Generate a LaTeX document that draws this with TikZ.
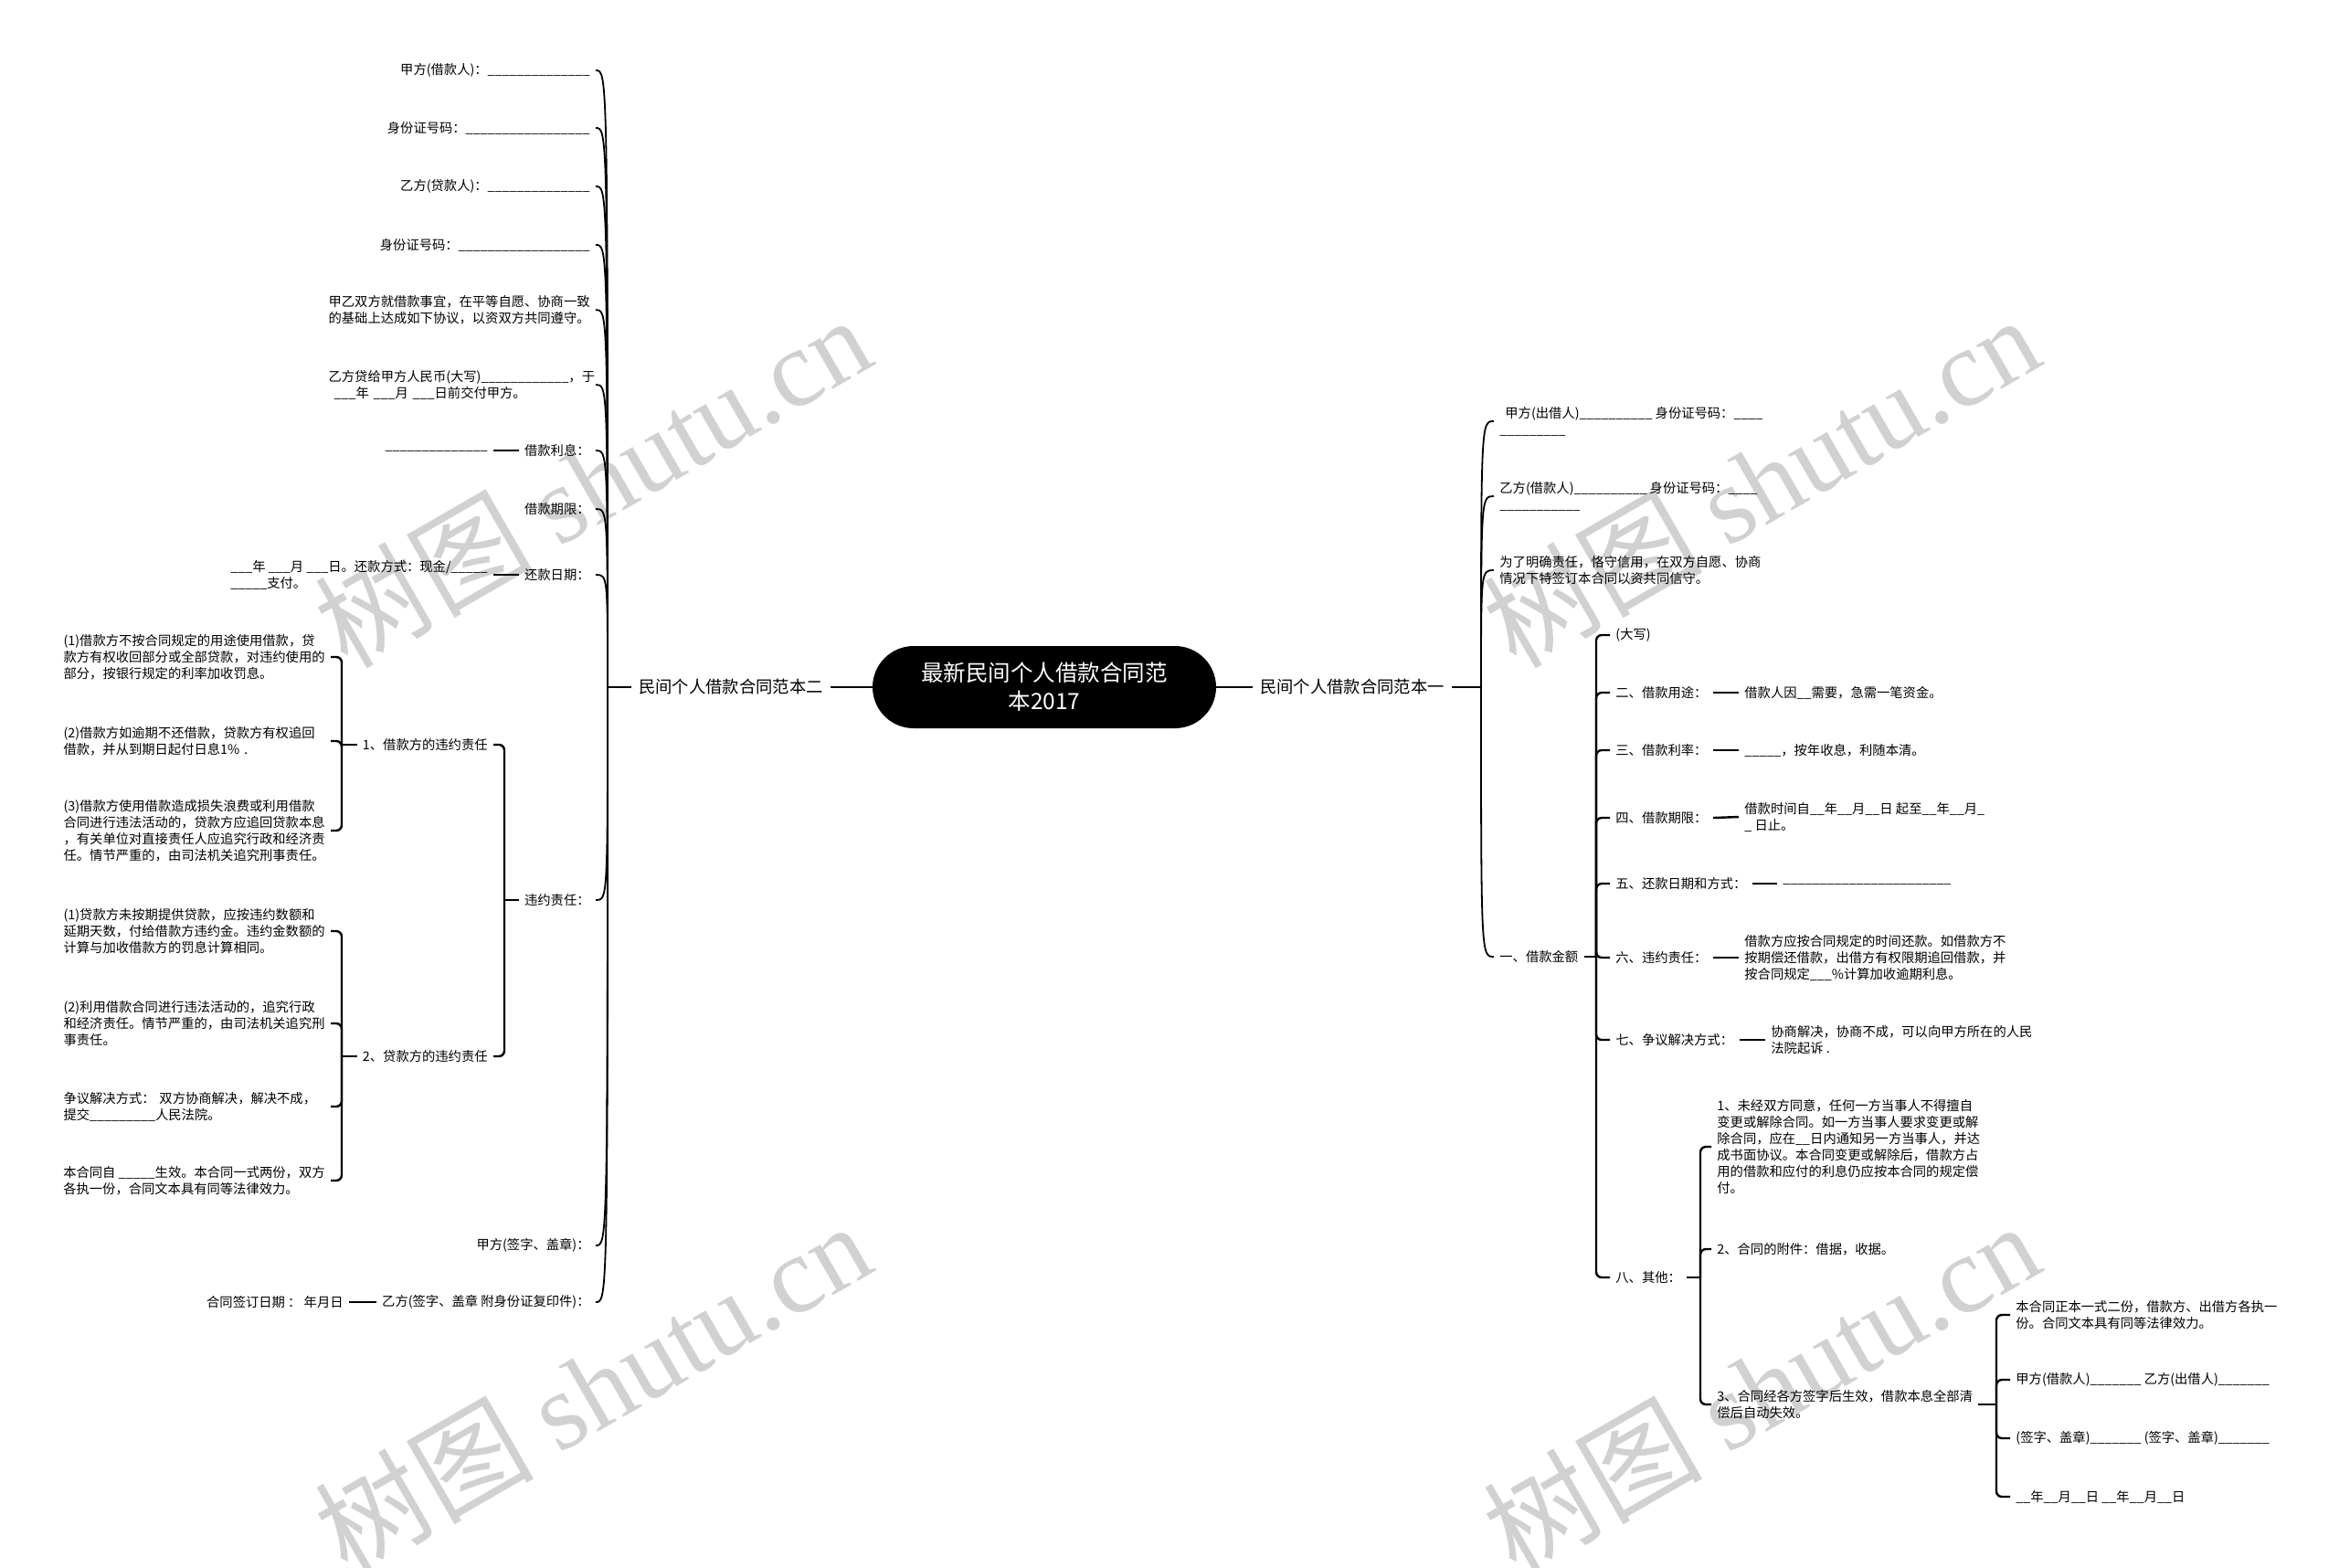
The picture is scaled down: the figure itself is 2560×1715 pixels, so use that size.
\documentclass[tikz,border=0pt]{standalone}
\usepackage{fontspec}
\setmainfont{Noto Sans CJK SC}
\newfontfamily\wmfont{Liberation Serif}
\begin{document}
\catcode`\_=12
\begin{tikzpicture}[x=0.5pt,y=-0.5pt,
  t/.style={inner xsep=3pt, inner ysep=1pt, font=\fontsize{7.15}{9}\selectfont, align=left},
  tl/.style={t, anchor=east},
  tr/.style={t, anchor=west},
  tw/.style={tl, text width=143pt},
  br/.style={inner xsep=4pt, inner ysep=1pt, font=\fontsize{9.15}{11}\selectfont},
  cv/.style={line width=0.9pt},
  el/.style={line width=1.2pt, rounded corners=3pt},
  st/.style={line width=1.2pt},
  wm/.style={text=black!18, font=\fontsize{60}{60}\selectfont, rotate=30, inner sep=0pt},
  rootbox/.style={fill=black, text=white, rounded corners=22.5pt, minimum width=188pt, minimum height=45pt, align=center, font=\fontsize{12.25}{15.5}\selectfont}
]
\path[use as bounding box] (0,0) rectangle (2560,1715);

% watermarks
\node[wm] (wm1) at (648,526) {树图 {\wmfont shutu.cn}};
\node[wm] (wm2) at (1927,526) {树图 {\wmfont shutu.cn}};
\node[wm] (wm3) at (648,1518) {树图 {\wmfont shutu.cn}};
\node[wm] (wm4) at (1927,1518) {树图 {\wmfont shutu.cn}};

% root and main branches
\node[rootbox] (root) at (1143,752) {最新民间个人借款合同范\\本2017};
\node[br] (b1) at (1480,752) {民间个人借款合同范本一};
\node[br] (b2) at (800,752) {民间个人借款合同范本二};
\coordinate (J1) at (1621,752);
\coordinate (J2) at (665,752);
\draw[st] (root.east) -- (b1.west);
\draw[st] (b1.east) -- (J1);
\draw[st] (root.west) -- (b2.east);
\draw[st] (b2.west) -- (J2);

% ---------------- right side ----------------
\node[tr] (R1) at (1635,461) {\hspace*{3pt}甲方(出借人)__________ 身份证号码：____\\_________};
\node[tr] (R2) at (1635,543) {乙方(借款人)__________ 身份证号码：____\\___________};
\node[tr] (R3) at (1635,624) {为了明确责任，恪守信用，在双方自愿、协商\\情况下特签订本合同以资共同信守。};
\node[tr] (R4) at (1635,1047) {一、借款金额};
\foreach \n in {R1,R2,R3,R4} \draw[cv] (J1) .. controls (J1 |- \n.west) .. (\n.west);

\coordinate (J3) at (1747,1047);
\draw[st] (R4.east) -- (J3);
\node[tr] (a1) at (1762,695) {(大写)};
\node[tr] (a2) at (1762,758) {二、借款用途：};
\node[tr] (a3) at (1762,821) {三、借款利率：};
\node[tr] (a4) at (1762,895) {四、借款期限：};
\node[tr] (a5) at (1762,967) {五、还款日期和方式：};
\node[tr] (a6) at (1762,1048) {六、违约责任：};
\node[tr] (a7) at (1762,1138) {七、争议解决方式：};
\node[tr] (a8) at (1762,1398) {八、其他：};
\foreach \n in {a1,a2,a3,a4,a5,a6,a7,a8} \draw[el] (J3) |- (\n.west);

\node[tr] (a2c) at (1903,758) {借款人因__需要，急需一笔资金。};
\node[tr] (a3c) at (1903,821) {_____，按年收息，利随本清。};
\node[tr] (a4c) at (1903,894) {借款时间自__年__月__日 起至__年__月_\\_ 日止。};
\node[tr] (a5c) at (1945,967) {_______________________};
\node[tr] (a6c) at (1903,1048) {借款方应按合同规定的时间还款。如借款方不\\按期偿还借款，出借方有权限期追回借款，并\\按合同规定___\%计算加收逾期利息。};
\node[tr] (a7c) at (1932,1138) {协商解决，协商不成，可以向甲方所在的人民\\法院起诉 .};
\foreach \n in {a2,a3,a4,a5,a6,a7} \draw[st] (\n.east) -- (\n c.west);

\coordinate (J4) at (1861,1398);
\draw[st] (a8.east) -- (J4);
\node[tr] (c1) at (1873,1255) {1、未经双方同意，任何一方当事人不得擅自\\变更或解除合同。如一方当事人要求变更或解\\除合同，应在__日内通知另一方当事人，并达\\成书面协议。本合同变更或解除后，借款方占\\用的借款和应付的利息仍应按本合同的规定偿\\付。};
\node[tr] (c2) at (1873,1367) {2、合同的附件：借据，收据。};
\node[tr] (c3) at (1873,1537) {3、合同经各方签字后生效，借款本息全部清\\偿后自动失效。};
\foreach \n in {c1,c2,c3} \draw[el] (J4) |- (\n.west);

\coordinate (J5) at (2185,1537);
\draw[st] (c3.east) -- (J5);
\node[tr] (d1) at (2200,1439) {本合同正本一式二份，借款方、出借方各执一\\份。合同文本具有同等法律效力。};
\node[tr] (d2) at (2200,1510) {甲方(借款人)_______ 乙方(出借人)_______};
\node[tr] (d3) at (2200,1574) {(签字、盖章)_______ (签字、盖章)_______};
\node[tr] (d4) at (2200,1638) {__年__月__日 __年__月__日};
\foreach \n in {d1,d2,d3,d4} \draw[el] (J5) |- (\n.west);

% ---------------- left side ----------------
\node[tl] (L1) at (652,77) {甲方(借款人)：______________};
\node[tl] (L2) at (652,140) {身份证号码：_________________};
\node[tl] (L3) at (652,204) {乙方(贷款人)：______________};
\node[tl] (L4) at (652,268) {身份证号码：__________________};
\node[tw] (L5) at (652,339) {甲乙双方就借款事宜，在平等自愿、协商一致\\的基础上达成如下协议，以资双方共同遵守。};
\node[tw] (L6) at (652,421) {乙方贷给甲方人民币(大写)____________，于\\\hspace*{3pt}___年 ___月 ___日前交付甲方。};
\node[tl] (L7) at (652,493) {借款利息：};
\node[tl] (L8) at (652,557) {借款期限：};
\node[tl] (L9) at (652,629) {还款日期：};
\node[tl] (L10) at (652,985) {违约责任：};
\node[tl] (L11) at (652,1363) {甲方(签字、盖章)：};
\node[tl] (L12) at (652,1425) {乙方(签字、盖章 附身份证复印件)：};
\foreach \n in {L1,L2,L3,L4,L5,L6,L7,L8,L9,L10,L11,L12} \draw[cv] (J2) .. controls (J2 |- \n.east) .. (\n.east);

\node[tl] (L7c) at (540,493) {______________};
\node[tl] (L9c) at (540,629) {___年 ___月 ___日。还款方式：现金/_____\\_____支付。};
\node[tl] (L12c) at (382,1425) {合同签订日期 ： 年月日};
\foreach \n in {L7,L9,L12} \draw[st] (\n.west) -- (\n c.east);

\coordinate (J6) at (552,985);
\draw[st] (L10.west) -- (J6);
\node[tl] (m1) at (540,815) {1、借款方的违约责任};
\node[tl] (m2) at (540,1156) {2、贷款方的违约责任};
\foreach \n in {m1,m2} \draw[el] (J6) |- (\n.east);

\coordinate (J7) at (374,815);
\coordinate (J8) at (374,1156);
\draw[st] (m1.west) -- (J7);
\draw[st] (m2.west) -- (J8);
\node[tl] (n1) at (362,719) {(1)借款方不按合同规定的用途使用借款，贷\\款方有权收回部分或全部贷款，对违约使用的\\部分，按银行规定的利率加收罚息。};
\node[tw] (n2) at (362,811) {(2)借款方如逾期不还借款，贷款方有权追回\\借款，并从到期日起付日息1\% .};
\node[tl] (n3) at (362,909) {(3)借款方使用借款造成损失浪费或利用借款\\合同进行违法活动的，贷款方应追回贷款本息\\，有关单位对直接责任人应追究行政和经济责\\任。情节严重的，由司法机关追究刑事责任。};
\foreach \n in {n1,n2,n3} \draw[el] (J7) |- (\n.east);

\node[tl] (o1) at (362,1019) {(1)贷款方未按期提供贷款，应按违约数额和\\延期天数，付给借款方违约金。违约金数额的\\计算与加收借款方的罚息计算相同。};
\node[tl] (o2) at (362,1120) {(2)利用借款合同进行违法活动的，追究行政\\和经济责任。情节严重的，由司法机关追究刑\\事责任。};
\node[tw] (o3) at (362,1211) {争议解决方式： 双方协商解决，解决不成，\\提交_________人民法院。};
\node[tl] (o4) at (362,1292) {本合同自 _____生效。本合同一式两份，双方\\各执一份，合同文本具有同等法律效力。};
\foreach \n in {o1,o2,o3,o4} \draw[el] (J8) |- (\n.east);
\end{tikzpicture}
\end{document}
